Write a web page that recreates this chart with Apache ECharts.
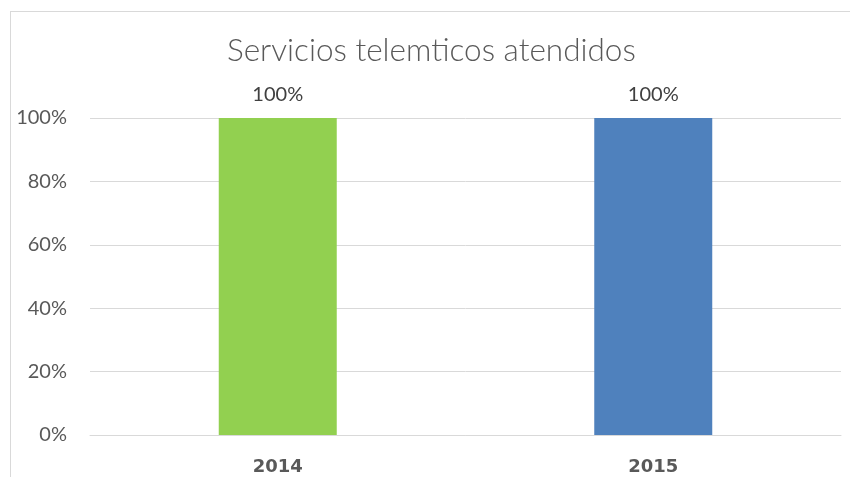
<!DOCTYPE html>
<html>
<head>
<meta charset="utf-8">
<script src="https://cdn.jsdelivr.net/npm/echarts@6/dist/echarts.min.js"></script>
<style>
  html, body { margin: 0; padding: 0; background: #fff; overflow: hidden; }
  .frame {
    position: absolute; left: 10px; top: 11px; width: 860px; height: 480px;
    border: 1px solid #d9d9d9; box-sizing: border-box;
  }
  #chart { position: absolute; left: 0; top: 0; width: 850px; height: 477px; }
</style>
</head>
<body>
<div class="frame"></div>
<div id="chart"></div>
<script>
const years = ["2014", "2015"];
const values = [100, 100];
const barColors = ["#92D050", "#4F81BD"];

const chart = echarts.init(document.getElementById("chart"));
chart.setOption({
  title: {
    text: "Servicios telemticos atendidos",
    left: 222,
    top: 30,
    textStyle: { fontFamily: "Lato", fontWeight: 300, fontSize: 31.5, color: "#595959" },
  },
  grid: { left: 90, right: 9, top: 118, bottom: 42 },
  xAxis: {
    type: "category",
    data: years,
    axisLine: { lineStyle: { color: "#d9d9d9", width: 1 } },
    axisTick: { show: false },
    axisLabel: {
      fontFamily: "DejaVu Sans",
      fontWeight: "bold",
      fontSize: 18,
      color: "#595959",
      margin: 23,
    },
  },
  yAxis: {
    type: "value",
    min: 0,
    max: 100,
    interval: 20,
    axisLine: { show: false },
    axisTick: { show: false },
    splitLine: { lineStyle: { color: "#d9d9d9", width: 1 } },
    axisLabel: {
      formatter: "{value}%",
      fontFamily: "Lato",
      fontSize: 20,
      color: "#595959",
      margin: 23,
    },
  },
  series: [
    {
      type: "bar",
      barWidth: 118,
      data: values.map((v, i) => ({ value: v, itemStyle: { color: barColors[i] } })),
      label: {
        show: true,
        position: "top",
        distance: 13,
        formatter: "{c}%",
        fontFamily: "Lato",
        fontSize: 20,
        color: "#404040",
      },
    },
  ],
});
</script>
</body>
</html>
